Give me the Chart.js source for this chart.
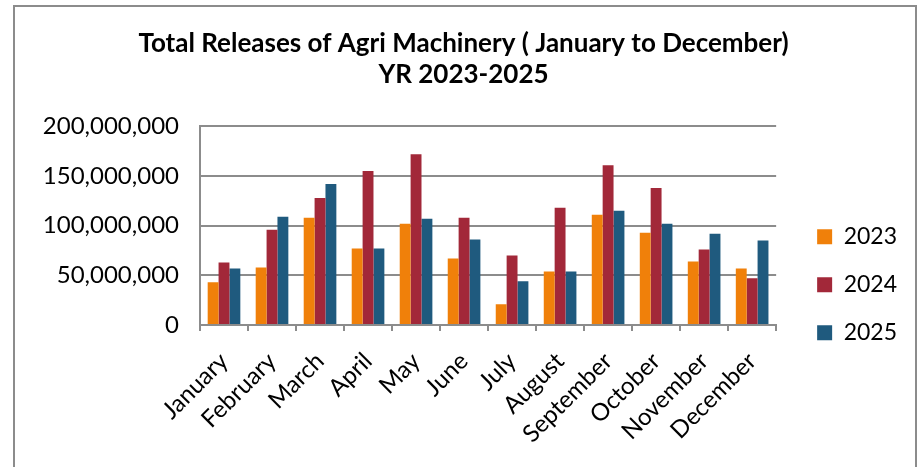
<!DOCTYPE html>
<html>
<head>
<meta charset="utf-8">
<script src="https://cdn.jsdelivr.net/npm/chart.js@4.4.0/dist/chart.umd.min.js"></script>
<style>
  html, body { margin: 0; padding: 0; background: #fff; }
  #wrap { position: relative; width: 920px; height: 467px; overflow: hidden; }
  #frame { position: absolute; left: 13px; top: 5px; width: 904px; height: 470px; border: 2px solid #8c8c8c; box-sizing: border-box; }
  #chart { position: absolute; left: 0; top: 0; }
</style>
</head>
<body>
<div id="wrap">
  <div id="frame"></div>
  <canvas id="chart" width="920" height="467"></canvas>
</div>
<script>
const months = ["January", "February", "March", "April", "May", "June",
  "July", "August", "September", "October", "November", "December"];

const y2023 = [43000000, 58000000, 108000000, 77000000, 102000000, 67000000,
  21000000, 54000000, 111000000, 93000000, 64000000, 57000000];
const y2024 = [63000000, 96000000, 128000000, 155000000, 172000000, 108000000,
  70000000, 118000000, 161000000, 138000000, 76000000, 47000000];
const y2025 = [57000000, 109000000, 142000000, 77000000, 107000000, 86000000,
  44000000, 54000000, 115000000, 102000000, 92000000, 85000000];

const FONT = "Lato, 'Open Sans', sans-serif";
const GRID = "#8c8c8c";

Chart.defaults.font.family = FONT;
Chart.defaults.color = "#000";

new Chart(document.getElementById("chart").getContext("2d"), {
  type: "bar",
  data: {
    labels: months,
    datasets: [
      { label: "2023", data: y2023, backgroundColor: "#f0800a" },
      { label: "2024", data: y2024, backgroundColor: "#a22839" },
      { label: "2025", data: y2025, backgroundColor: "#1f5a7e" }
    ]
  },
  options: {
    responsive: false,
    animation: false,
    layout: { padding: { left: 20, right: 13, top: 28, bottom: 0 } },
    datasets: { bar: { categoryPercentage: 0.68, barPercentage: 1 } },
    scales: {
      x: {
        offset: true,
        grid: { offset: true, drawOnChartArea: false, color: GRID, lineWidth: 2, tickLength: 6 },
        border: { color: GRID, width: 2 },
        ticks: { font: { size: 24 }, minRotation: 45, maxRotation: 45, padding: 16 },
        afterFit: (axis) => { axis.height = 467 - 325; }
      },
      y: {
        min: 0,
        max: 200000000,
        grid: { color: GRID, lineWidth: 2, tickLength: 6, drawTicks: false },
        border: { color: GRID, width: 2 },
        ticks: {
          stepSize: 50000000,
          font: { size: 24 },
          padding: 21,
          callback: (v) => v.toLocaleString("en-US")
        },
        afterFit: (axis) => { axis.width = 180; }
      },
      // empty spacer between plot and legend
      gap: {
        type: "linear",
        position: "right",
        grid: { display: false },
        border: { display: false },
        ticks: { display: false },
        afterFit: (axis) => { axis.width = 16; }
      }
    },
    plugins: {
      title: {
        display: true,
        text: ["Total Releases of Agri Machinery ( January to December)", "YR 2023-2025"],
        font: { size: 26, weight: "bold" },
        color: "#000",
        padding: { top: 0, bottom: 36 },
        lineHeight: 1.25
      },
      legend: {
        position: "right",
        title: {
          display: true,
          text: "",
          font: { size: 12 },
          padding: { top: 60, bottom: 0 }
        },
        labels: {
          boxWidth: 15,
          boxHeight: 15,
          padding: 25,
          font: { size: 23 }
        }
      },
      tooltip: { enabled: false }
    }
  }
});
</script>
</body>
</html>
